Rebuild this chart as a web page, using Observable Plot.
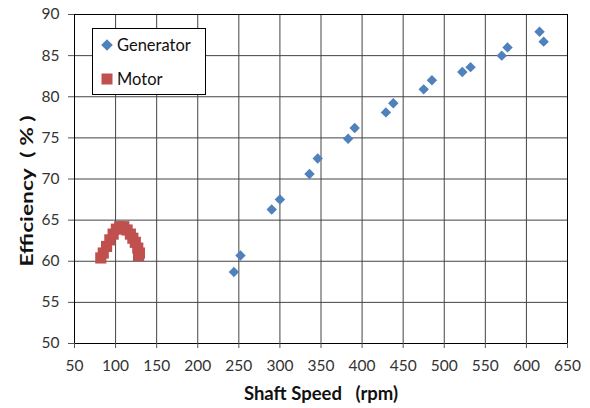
<!DOCTYPE html>
<html>
<head>
<meta charset="utf-8">
<script src="https://cdn.jsdelivr.net/npm/d3@7"></script>
<script src="https://cdn.jsdelivr.net/npm/@observablehq/plot@0.6"></script>
<style>
  html, body { margin: 0; padding: 0; background: #fff; }
  #wrap { position: relative; width: 590px; height: 408px; }
  #legend {
    position: absolute; left: 92px; top: 28px; width: 114px; height: 67px;
    border: 1px solid #000; background: #fff; box-sizing: border-box;
    font-family: Lato, "Open Sans", sans-serif; font-size: 16.5px; color: #111;
  }
  #legend .item { position: absolute; left: 8px; display: flex; align-items: center; height: 18px; }
  #legend svg { margin-right: 4px; }
</style>
</head>
<body>
<div id="wrap"></div>
<script>
const generatorSpeed = [244, 252, 290, 300, 336, 346, 383, 391, 429, 438, 475, 485, 522, 532, 570, 577, 616, 621];
const generatorEff   = [58.7, 60.7, 66.3, 67.5, 70.6, 72.5, 74.9, 76.2, 78.1, 79.2, 80.9, 82.0, 83.0, 83.6, 85.0, 86.0, 87.9, 86.7];
const motorSpeed = [82, 85, 89, 93, 97, 101, 105, 110, 114, 118, 121, 124, 127, 129, 128];
const motorEff   = [60.4, 61.0, 61.8, 62.6, 63.3, 63.9, 64.2, 64.2, 63.8, 63.3, 62.8, 62.3, 61.6, 61.0, 60.7];
const xTicks = [50, 100, 150, 200, 250, 300, 350, 400, 450, 500, 550, 600, 650];
const yTicks = [50, 55, 60, 65, 70, 75, 80, 85, 90];
const seriesNames = ["Generator", "Motor"];
const seriesColors = ["#4F81BD", "#C0504D"];
const xTitle = "Shaft Speed   (rpm)";
const yTitle = "Efficiency  ( % )";

const generator = generatorSpeed.map((s, i) => ({speed: s, eff: generatorEff[i]}));
const motor = motorSpeed.map((s, i) => ({speed: s, eff: motorEff[i]}));

const chart = Plot.plot({
  width: 590,
  height: 408,
  marginLeft: 74,
  marginRight: 23,
  marginTop: 14,
  marginBottom: 65,
  style: {fontFamily: "Lato, 'Open Sans', sans-serif", fontSize: "15px", color: "#333", background: "#fff"},
  x: {domain: [50, 650]},
  y: {domain: [50, 90]},
  marks: [
    Plot.gridX(xTicks, {stroke: "#444", strokeOpacity: 1}),
    Plot.gridY(yTicks, {stroke: "#444", strokeOpacity: 1}),
    Plot.frame({stroke: "#000"}),
    Plot.axisX(xTicks, {tickSize: 5, tickPadding: 11, label: null, stroke: "#555", fill: "#333", fontSize: 15.5}),
    Plot.axisY(yTicks, {tickSize: 6, tickPadding: 9, label: null, stroke: "#555", fill: "#333", fontSize: 15.5}),
    Plot.dot(motor, {x: "speed", y: "eff", symbol: "square", r: 6.3, fill: seriesColors[1], stroke: null}),
    Plot.dot(generator, {x: "speed", y: "eff", symbol: "diamond2", r: 4.7, fill: seriesColors[0], stroke: null}),
    Plot.text([xTitle], {frameAnchor: "bottom", textAnchor: "middle", dy: 56, fontWeight: "bold", fontSize: 18.5, fill: "#111"}),
    Plot.text([yTitle], {frameAnchor: "left", textAnchor: "middle", dx: -47, dy: 12, rotate: -90, fontWeight: "bold", fontSize: 17, fill: "#111"})
  ]
});
const wrap = document.getElementById("wrap");
wrap.appendChild(chart);

// the reference's rotated y title is stretched along its length
d3.select(chart).selectAll("text").filter(function() { return this.textContent === yTitle; })
  .each(function() {
    const t = this.getAttribute("transform") || "";
    this.setAttribute("transform", t + " scale(1.34,1)");
  });

const legend = document.createElement("div");
legend.id = "legend";
const shapes = [
  '<svg width="12" height="12" viewBox="-6 -6 12 12"><path d="M0,-5.8L5.8,0L0,5.8L-5.8,0Z" fill="' + seriesColors[0] + '"/></svg>',
  '<svg width="12" height="12" viewBox="-6 -6 12 12"><rect x="-5.5" y="-5.5" width="11" height="11" fill="' + seriesColors[1] + '"/></svg>'
];
const tops = [7, 41];
seriesNames.forEach((name, i) => {
  const it = document.createElement("div");
  it.className = "item";
  it.style.top = tops[i] + "px";
  it.innerHTML = shapes[i] + "<span>" + name + "</span>";
  legend.appendChild(it);
});
wrap.appendChild(legend);
</script>
</body>
</html>
